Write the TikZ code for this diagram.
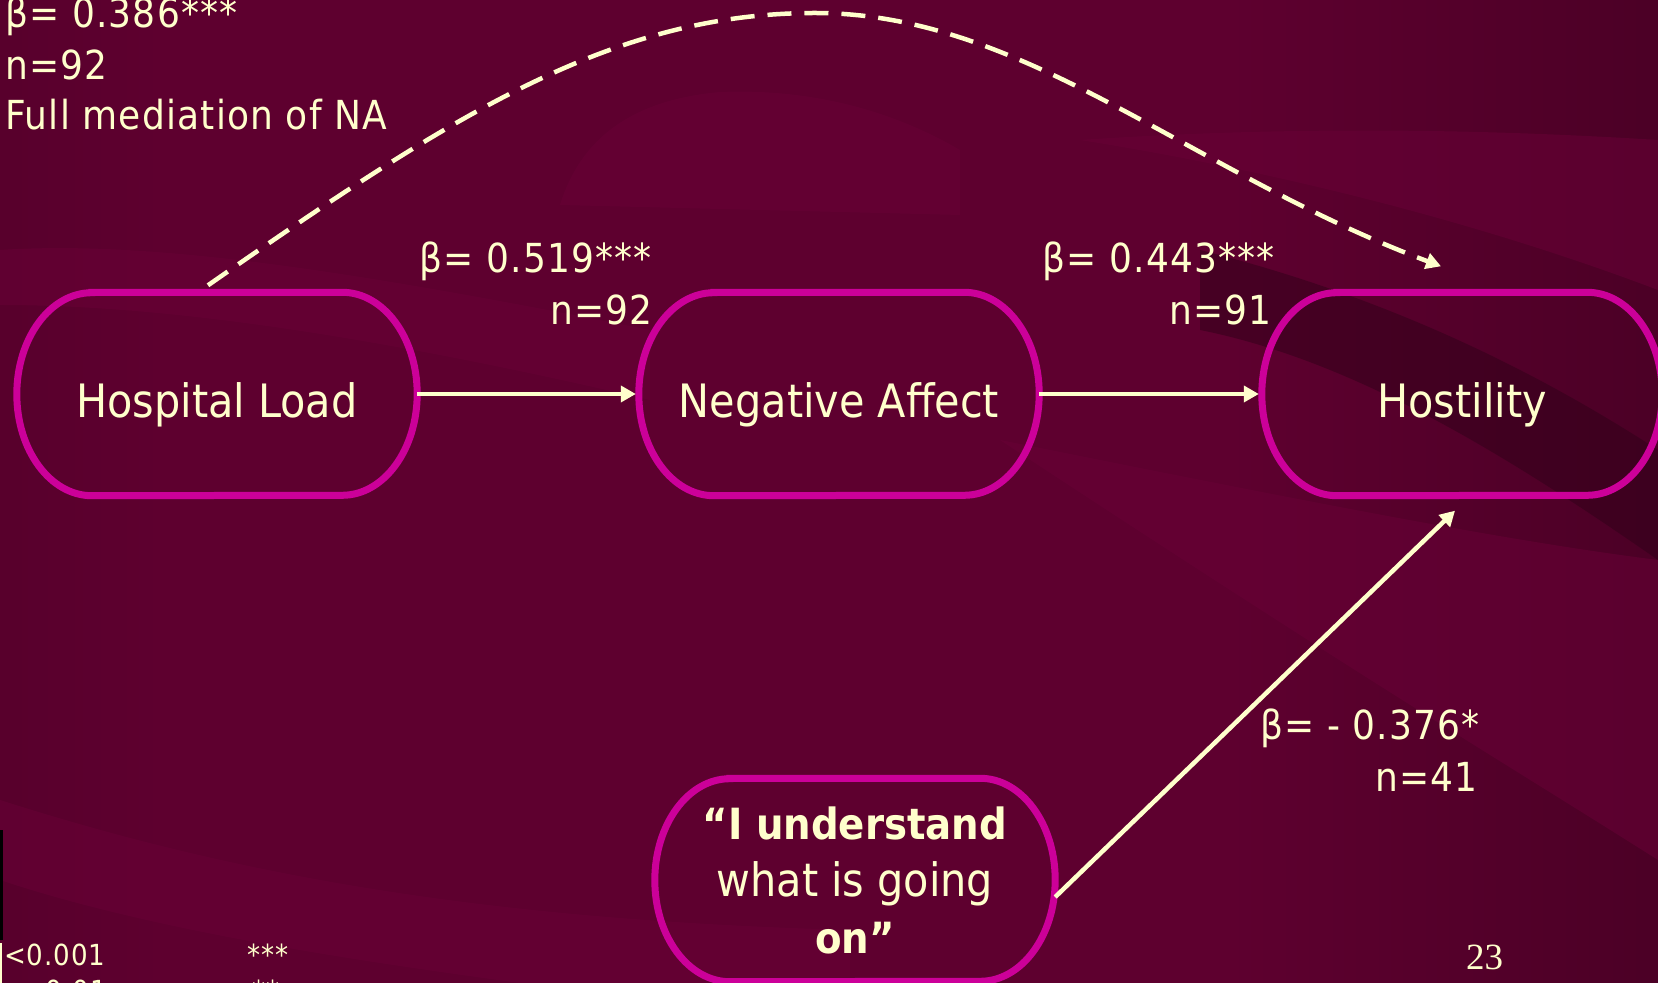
\documentclass[tikz,border=0pt]{standalone}
\usepackage{fontspec}
\setmainfont{DejaVu Sans Condensed}
\newfontfamily\serifnum{Liberation Serif}
\newfontfamily\labfont[LetterSpace=3]{DejaVu Sans Condensed}
\usetikzlibrary{arrows.meta}
\definecolor{bgmid}{RGB}{94,0,47}
\definecolor{bgleft}{RGB}{56,0,29}
\definecolor{bgright}{RGB}{40,0,20}
\definecolor{swoosh}{RGB}{104,0,54}
\definecolor{shadowc}{RGB}{48,0,25}
\definecolor{border}{RGB}{204,0,153}
\definecolor{cream}{RGB}{255,255,204}
\pgfdeclarehorizontalshading{bgshade}{100bp}{color(0bp)=(bgleft); color(30bp)=(bgmid); color(62bp)=(bgmid); color(100bp)=(bgright)}
\tikzset{
  boxbase/.style={minimum width=400pt, minimum height=203pt, inner sep=0pt, text=cream, align=center, font=\fontsize{46}{57}\selectfont},
  box/.style={boxbase, text height=48pt, text depth=0pt},
  bord/.style={draw=border, line width=7pt},
  lab/.style={text=cream, inner sep=0pt, font=\labfont\fontsize{40}{48}\selectfont},
  small/.style={text=cream, inner sep=0pt, font=\labfont\fontsize{29}{35}\selectfont},
  conn/.style={draw=cream, line width=4.5pt, -{Triangle[length=15pt,width=16pt]}},
  dashconn/.style={conn, dash pattern=on 24pt off 13pt},
  swooshfill/.style={fill=swoosh, fill opacity=0.55, draw=none},
  shadowfill/.style={fill=shadowc, fill opacity=0.5, draw=none}
}
\begin{document}
\begin{tikzpicture}[x=1pt,y=1pt]
\useasboundingbox (0,0) rectangle (1658,983);
\clip (0,0) rectangle (1658,983);
% background (pixel coordinates, y downwards)
\begin{scope}[shift={(0,983)}, yscale=-1]
  \shade[shading=bgshade] (0,0) rectangle (1658,983);
  \fill[swooshfill] (0,800) .. controls (250,880) and (500,920) .. (850,930) -- (850,983) -- (520,983) .. controls (350,960) and (150,930) .. (0,880) -- cycle;
  \fill[swooshfill] (560,205) .. controls (580,140) and (630,100) .. (720,92) .. controls (820,88) and (900,115) .. (960,150) -- (960,215) -- cycle;
  \fill[swooshfill] (0,250) .. controls (150,240) and (350,270) .. (650,330) -- (650,400) .. controls (350,330) and (150,305) .. (0,305) -- cycle;
  \fill[swooshfill] (1080,140) .. controls (1300,125) and (1500,130) .. (1658,140) -- (1658,290) .. controls (1500,230) and (1300,175) .. (1080,140) -- cycle;
  \fill[swooshfill] (1000,440) .. controls (1300,500) and (1500,540) .. (1658,560) -- (1658,860) .. controls (1500,760) and (1380,690) .. (1000,440) -- cycle;
  \fill[shadowfill] (1200,250) .. controls (1400,300) and (1550,380) .. (1658,450) -- (1658,560) .. controls (1500,450) and (1350,360) .. (1200,330) -- cycle;
  \fill[black] (0,830) rectangle (3,940);
  \fill[cream] (0,943) rectangle (2,983);
\end{scope}
% nodes
\node[box] (hl) at (217,589) {Hospital Load};
\node[box] (na) at (839,589) {Negative Affect};
\node[box] (ho) at (1462,589) {Hostility};
\node[boxbase] (iu) at (855,103) {{\bfseries\fontsize{43}{57}\selectfont “I understand}\\what is going\\{\bfseries\fontsize{43}{57}\selectfont on”}};
\foreach \n in {hl,na,ho,iu}{
  \draw[bord] ([xshift=75pt]\n.north west) -- ([xshift=-75pt]\n.north east)
    arc[start angle=90, end angle=-90, x radius=75pt, y radius=101.5pt]
    -- ([xshift=75pt]\n.south west)
    arc[start angle=270, end angle=90, x radius=75pt, y radius=101.5pt] -- cycle;
}
% connectors
\draw[conn, shorten >=3pt] (hl.east) -- (na.west);
\draw[conn, shorten >=3pt] (na.east) -- (ho.west);
\draw[conn] ([yshift=-17pt]iu.east) -- ([shift={(-7pt,-15pt)}]ho.south);
\draw[dashconn] ([shift={(-9pt,7pt)}]hl.north) .. controls (450,866) and (610,970) .. (815,970)
  .. controls (1025,970) and (1191,810) .. ([shift={(-21pt,26pt)}]ho.north);
% labels
\node[lab, anchor=base west] (t1) at (5,955) {β= 0.386***};
\node[lab, anchor=base west] (t2) at (5,903) {n=92};
\node[lab, anchor=base west] (t3) at (5,853) {Full mediation of NA};
\node[lab, anchor=base east] (a1) at (652,710) {β= 0.519***};
\node[lab, anchor=base east] (a2) at (653,658) {n=92};
\node[lab, anchor=base east] (b1) at (1275,710) {β= 0.443***};
\node[lab, anchor=base east] (b2) at (1272,658) {n=91};
\node[lab, anchor=base east] (c1) at (1480,243) {β= - 0.376*};
\node[lab, anchor=base east] (c2) at (1478,191) {n=41};
\node[small, anchor=base west] (p1) at (4,17) {<0.001};
\node[small, anchor=base west] (s1) at (247,17) {***};
\node[small, anchor=base west] (p2) at (23,-19) {<0.01};
\node[small, anchor=base west] (s2) at (252,-19) {**};
\node[text=cream, inner sep=0pt, anchor=base west, font=\serifnum\fontsize{37}{44}\selectfont] (pg) at (1466,13) {23};
\end{tikzpicture}
\end{document}
